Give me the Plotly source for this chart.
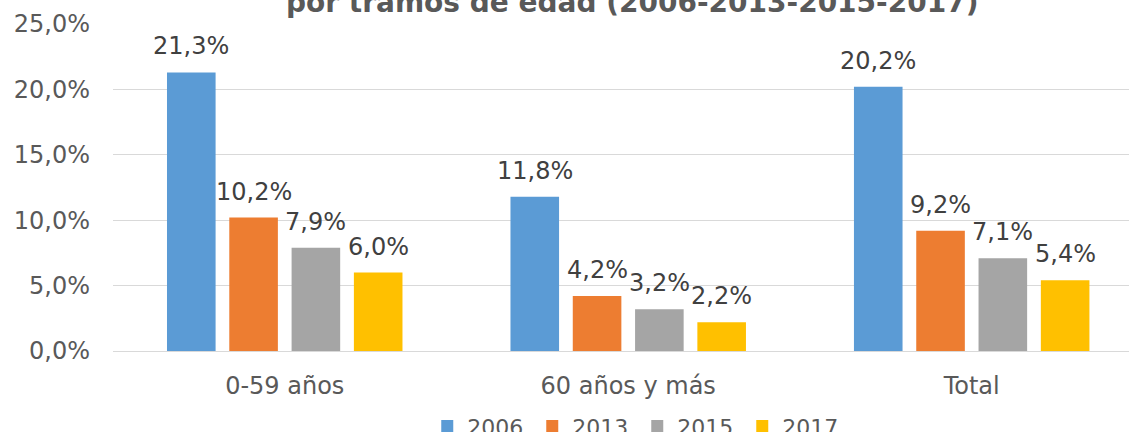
import plotly.graph_objects as go

categories = ["0-59 años", "60 años y más", "Total"]
years = ["2006", "2013", "2015", "2017"]
values = {
    "2006": [21.3, 11.8, 20.2],
    "2013": [10.2, 4.2, 9.2],
    "2015": [7.9, 3.2, 7.1],
    "2017": [6.0, 2.2, 5.4],
}
colors = ["#5B9BD5", "#ED7D31", "#A5A5A5", "#FFC000"]
title_text = "por tramos de edad (2006-2013-2015-2017)"
tick_vals = [0, 0.05, 0.10, 0.15, 0.20, 0.25]

FONT = "DejaVu Sans"
fig = go.Figure()
slot = 62.3
for i, (yr, col) in enumerate(zip(years, colors)):
    ys = [v / 100 for v in values[yr]]
    fig.add_trace(go.Bar(
        x=categories, y=ys, name=yr, marker=dict(color=col, line=dict(width=0)),
    ))
    for c, v in zip(categories, values[yr]):
        fig.add_annotation(
            x=c, y=v / 100, xref="x", yref="y",
            text=f"{v:.1f}".replace(".", ",") + "%", showarrow=False,
            xshift=(i - 1.5) * slot, yshift=10, yanchor="bottom",
            font=dict(family=FONT, size=24, color="#404040"),
        )

fig.add_annotation(
    x=0.511, y=1.009, xref="paper", yref="paper", text=f"<b>{title_text}</b>",
    showarrow=False, yanchor="bottom", xanchor="center",
    font=dict(family=FONT, size=28, color="#595959"),
)

fig.update_layout(
    width=1129, height=432,
    margin=dict(l=113, r=0, t=24, b=81, autoexpand=False),
    paper_bgcolor="white", plot_bgcolor="white",
    barmode="group", bargap=0.2745, bargroupgap=0.22,
    separators=",.",
    font=dict(family=FONT, size=24, color="#595959"),
    showlegend=True,
    legend=dict(orientation="h", x=0.516, xanchor="center", y=-0.166, yanchor="top",
                entrywidth=60, entrywidthmode="pixels",
                font=dict(family=FONT, size=22, color="#595959"),
                bgcolor="rgba(0,0,0,0)"),
)
fig.update_xaxes(range=[-0.5, 2.458], showgrid=False, showline=False, zeroline=False,
                 ticks="", ticklabelstandoff=18, tickfont=dict(size=24, color="#595959"))
fig.update_yaxes(range=[0, 0.25], tickvals=tick_vals, tickformat=".1%",
                 showgrid=True, gridcolor="#D9D9D9", gridwidth=1.3,
                 zeroline=True, zerolinecolor="#D9D9D9", zerolinewidth=1.3,
                 showline=False, ticks="", ticklabelstandoff=22,
                 tickfont=dict(size=24, color="#595959"))

fig.write_html("out.html", config={"displayModeBar": False},
               post_script="document.body.style.margin='0';")
